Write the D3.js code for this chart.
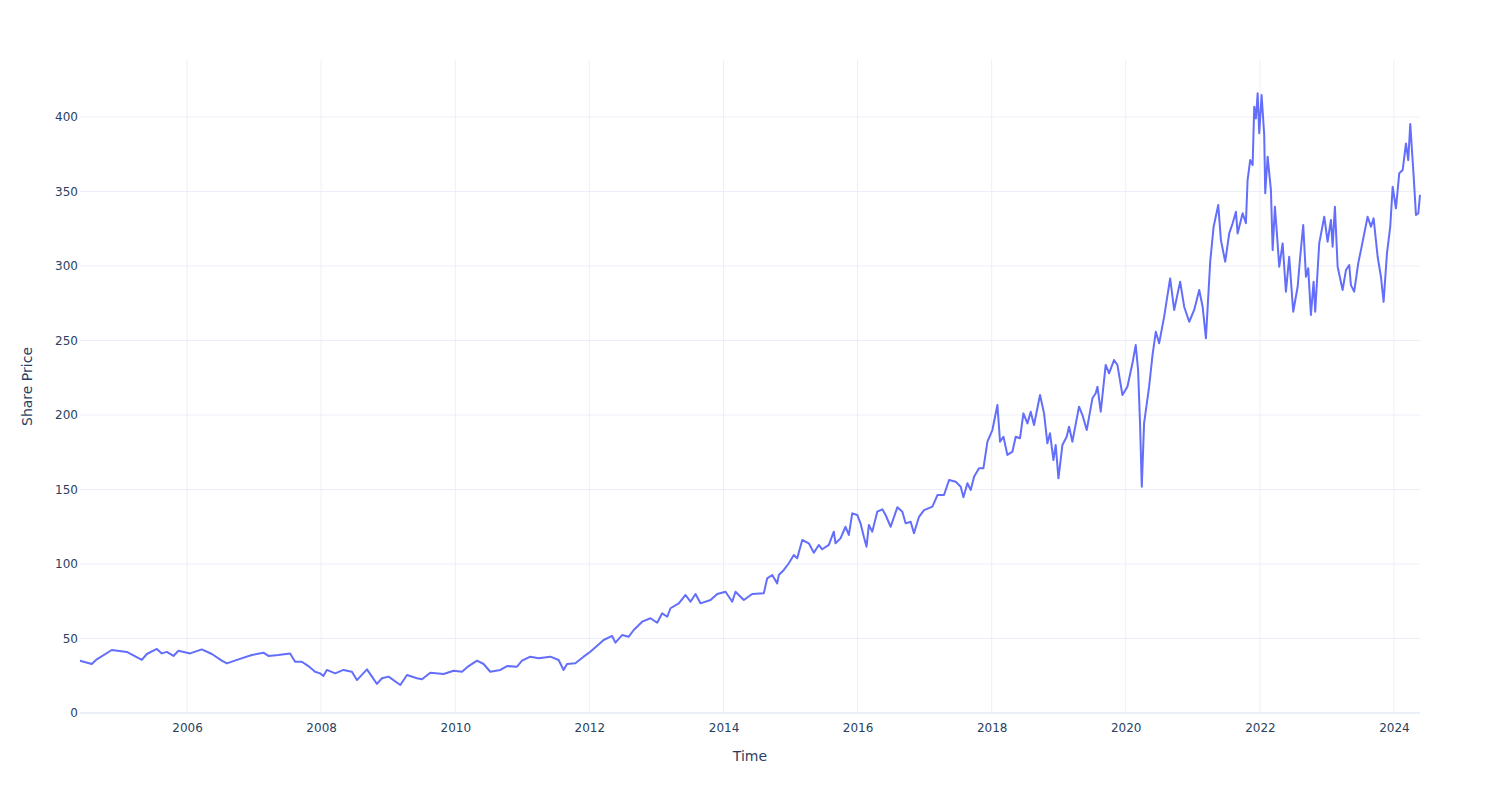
<!DOCTYPE html>
<html>
<head>
<meta charset="utf-8">
<script src="https://cdn.jsdelivr.net/npm/d3@7"></script>
<style>
  html, body { margin: 0; padding: 0; background: #fff; }
  svg { display: block; font-family: "DejaVu Sans", sans-serif; }
</style>
</head>
<body>
<svg id="chart" width="1500" height="800"></svg>
<script>
// Time points in decimal years
const years = [
  2004.403,2004.578,2004.653,2004.876,2005.100,2005.324,2005.399,2005.548,2005.622,2005.697,2005.796,2005.870,
  2006.045,2006.219,2006.369,2006.518,2006.593,2006.766,2006.966,2007.139,2007.213,2007.363,2007.537,2007.612,
  2007.712,2007.810,2007.910,2007.985,2008.034,2008.085,2008.209,2008.333,2008.458,2008.533,2008.682,2008.757,
  2008.831,2008.906,2009.004,2009.179,2009.279,2009.428,2009.503,2009.627,2009.825,2009.975,2010.100,2010.199,
  2010.324,2010.422,2010.522,2010.672,2010.772,2010.921,2010.996,2011.119,2011.243,2011.418,2011.542,2011.616,
  2011.667,2011.791,2011.915,2012.015,2012.100,2012.213,2012.339,2012.388,2012.488,2012.587,2012.661,2012.787,
  2012.910,2013.010,2013.085,2013.160,2013.209,2013.333,2013.433,2013.507,2013.582,2013.657,2013.806,2013.906,
  2014.030,2014.130,2014.179,2014.303,2014.428,2014.601,2014.652,2014.727,2014.801,2014.825,2014.900,2014.975,
  2015.049,2015.100,2015.175,2015.273,2015.348,2015.422,2015.473,2015.572,2015.646,2015.672,2015.746,2015.821,
  2015.870,2015.921,2015.996,2016.045,2016.094,2016.134,2016.169,2016.219,2016.294,2016.369,2016.418,2016.493,
  2016.593,2016.667,2016.716,2016.791,2016.840,2016.915,2016.990,2017.115,2017.190,2017.288,2017.363,2017.463,
  2017.537,2017.578,2017.637,2017.687,2017.736,2017.810,2017.876,2017.936,2018.010,2018.085,2018.124,2018.175,
  2018.234,2018.309,2018.358,2018.422,2018.473,2018.533,2018.582,2018.631,2018.721,2018.781,2018.831,2018.870,
  2018.921,2018.955,2018.996,2019.055,2019.119,2019.154,2019.204,2019.303,2019.354,2019.418,2019.503,2019.552,
  2019.578,2019.627,2019.701,2019.751,2019.825,2019.876,2019.951,2020.025,2020.100,2020.149,2020.184,2020.213,
  2020.239,2020.273,2020.348,2020.399,2020.448,2020.497,2020.572,2020.661,2020.721,2020.810,2020.870,2020.945,
  2021.019,2021.094,2021.145,2021.194,2021.258,2021.309,2021.378,2021.418,2021.482,2021.542,2021.593,2021.642,
  2021.667,2021.742,2021.791,2021.816,2021.855,2021.891,2021.915,2021.940,2021.966,2021.990,2022.025,2022.064,
  2022.079,2022.115,2022.164,2022.190,2022.224,2022.264,2022.288,2022.339,2022.388,2022.437,2022.497,2022.563,
  2022.601,2022.646,2022.687,2022.721,2022.761,2022.801,2022.825,2022.885,2022.960,2023.010,2023.060,2023.085,
  2023.119,2023.160,2023.234,2023.284,2023.333,2023.358,2023.407,2023.467,2023.518,2023.607,2023.657,2023.697,
  2023.757,2023.806,2023.846,2023.896,2023.945,2023.981,2024.030,2024.079,2024.130,2024.179,2024.213,2024.243,
  2024.294,2024.328,2024.363,2024.388
];
// Share price values
const prices = [
  35.1,32.9,36.0,42.3,41.0,35.6,39.6,43.0,40.0,41.0,38.3,41.8,
  40.0,42.7,39.6,35.1,33.3,36.0,38.9,40.5,38.3,38.9,40.0,34.4,
  34.4,31.5,27.7,26.6,24.8,28.9,26.6,28.9,27.7,22.1,29.3,24.4,
  19.5,23.3,24.4,18.8,25.5,23.3,22.6,27.0,26.2,28.4,27.7,31.5,
  35.1,32.9,27.7,28.9,31.5,31.1,35.1,37.8,36.7,37.8,35.6,28.9,
  32.9,33.4,37.8,41.1,44.5,49.0,51.7,47.2,52.3,51.2,55.7,61.3,
  63.6,60.6,66.9,64.6,70.3,73.6,79.2,74.7,79.9,73.6,75.8,79.9,
  81.4,74.7,81.4,75.8,79.9,80.3,90.4,92.6,87.0,92.6,96.0,100.5,
  106.0,103.8,116.1,113.9,107.6,112.8,109.9,112.8,121.7,113.9,117.2,125.0,
  119.5,134.0,132.9,127.3,118.3,111.6,126.2,121.7,135.1,136.7,132.9,125.0,
  138.1,135.1,127.3,128.4,120.6,131.7,136.2,138.5,146.3,146.3,156.4,155.2,
  151.9,144.8,154.2,149.7,158.6,164.2,164.2,182.1,189.9,206.7,182.1,185.4,
  173.2,175.4,185.4,184.4,201.1,194.4,202.2,193.3,213.4,201.1,181.0,187.7,
  169.8,179.9,157.5,179.9,185.4,192.1,182.1,205.6,200.0,189.9,211.2,214.6,
  219.0,202.2,233.6,228.0,236.9,233.6,213.4,219.0,234.7,247.0,230.2,194.4,
  151.9,194.4,219.0,240.3,255.9,248.1,266.0,291.7,270.5,289.5,272.7,262.6,
  270.5,283.9,272.7,251.5,302.9,326.4,340.9,317.4,302.9,321.9,328.7,336.4,
  321.9,335.4,328.7,357.7,371.1,367.8,406.9,399.1,415.9,389.1,414.8,387.9,
  348.8,373.4,351.0,310.7,339.8,315.2,299.5,315.2,282.8,306.2,269.3,286.1,
  306.2,327.5,292.8,298.5,267.1,289.5,269.3,315.2,333.1,316.3,330.9,313.0,
  339.8,299.5,283.9,297.3,300.7,287.2,282.8,301.8,313.0,333.1,326.4,332.0,
  306.2,292.8,276.0,308.5,326.4,353.2,338.7,362.2,364.4,382.3,371.1,395.3,
  359.9,334.2,335.4,347.7
];
const yTicks = [0, 50, 100, 150, 200, 250, 300, 350, 400];
const xTickYears = [2006, 2008, 2010, 2012, 2014, 2016, 2018, 2020, 2022, 2024];
const xTitle = "Time";
const yTitle = "Share Price";

function yearToDate(y) {
  const yr = Math.floor(y);
  const start = Date.UTC(yr, 0, 1), end = Date.UTC(yr + 1, 0, 1);
  return new Date(start + (y - yr) * (end - start));
}

const data = years.map((y, i) => ({ date: yearToDate(y), value: prices[i] }));

const W = 1500, H = 800;
const margin = { left: 80, right: 80, top: 60, bottom: 87 };
const svg = d3.select("#chart");
const FONT = '"DejaVu Sans", sans-serif';

const x = d3.scaleUtc()
  .domain(d3.extent(data, d => d.date))
  .range([margin.left, W - margin.right]);
const yMax = d3.max(prices) * 1.0538;
const y = d3.scaleLinear()
  .domain([0, yMax])
  .range([H - margin.bottom, margin.top]);

const grid = "#EBF0F8";
const txt = "#2a3f5f";

// Vertical grid lines
const xTicks = xTickYears.map(yr => new Date(Date.UTC(yr, 0, 1)));
svg.append("g").selectAll("line").data(xTicks).join("line")
  .attr("x1", d => x(d)).attr("x2", d => x(d))
  .attr("y1", margin.top).attr("y2", H - margin.bottom)
  .attr("stroke", grid).attr("stroke-width", 1);

// Horizontal grid lines
svg.append("g").selectAll("line").data(yTicks.filter(t => t !== 0)).join("line")
  .attr("x1", margin.left).attr("x2", W - margin.right)
  .attr("y1", d => y(d)).attr("y2", d => y(d))
  .attr("stroke", grid).attr("stroke-width", 1);

// Zero line
svg.append("line")
  .attr("x1", margin.left).attr("x2", W - margin.right)
  .attr("y1", y(0)).attr("y2", y(0))
  .attr("stroke", grid).attr("stroke-width", 2);

// Y axis labels
const yAxis = d3.axisLeft(y).tickValues(yTicks).tickSize(0).tickPadding(2).tickFormat(d3.format("d"));
const gy = svg.append("g").attr("transform", `translate(${margin.left},0)`).call(yAxis);
gy.select(".domain").remove();
gy.selectAll("text").attr("fill", txt).style("font-size", "12px").style("font-family", FONT);

// X axis labels
const xAxis = d3.axisBottom(x).tickValues(xTicks).tickSize(0).tickPadding(10).tickFormat(d3.utcFormat("%Y"));
const gx = svg.append("g").attr("transform", `translate(0,${H - margin.bottom})`).call(xAxis);
gx.select(".domain").remove();
gx.selectAll("text").attr("fill", txt).style("font-size", "12px").style("font-family", FONT);

// Line
const line = d3.line().x(d => x(d.date)).y(d => y(d.value));
svg.append("path").datum(data)
  .attr("d", line)
  .attr("fill", "none")
  .attr("stroke", "#636efa")
  .attr("stroke-width", 2)
  .attr("stroke-linejoin", "round");

// Axis titles
svg.append("text")
  .attr("x", (margin.left + W - margin.right) / 2)
  .attr("y", 761)
  .attr("text-anchor", "middle")
  .attr("fill", txt)
  .style("font-size", "14px")
  .style("font-family", FONT)
  .text(xTitle);

svg.append("text")
  .attr("transform", `translate(32,${(margin.top + H - margin.bottom) / 2}) rotate(-90)`)
  .attr("text-anchor", "middle")
  .attr("fill", txt)
  .style("font-size", "14px")
  .style("font-family", FONT)
  .text(yTitle);
</script>
</body>
</html>
